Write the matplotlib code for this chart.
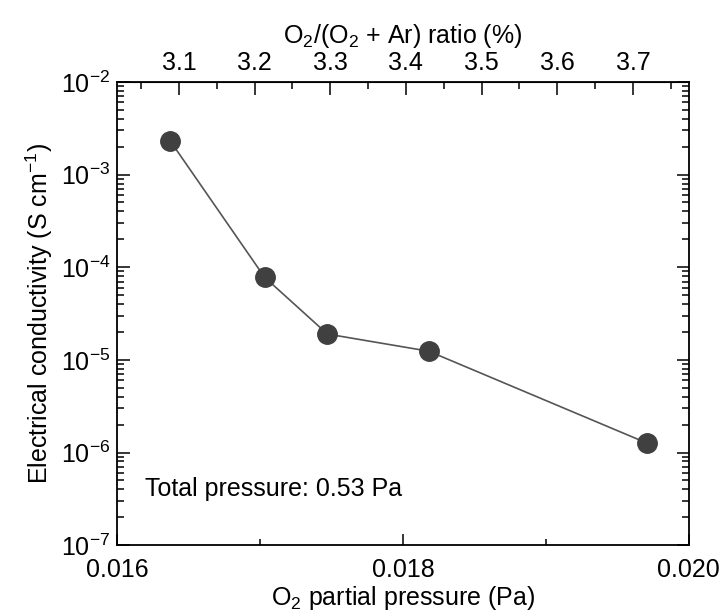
import matplotlib
matplotlib.use('Agg')
import matplotlib.pyplot as plt
from matplotlib.ticker import (MultipleLocator, FixedLocator, FormatStrFormatter,
                               LogLocator, NullFormatter)

plt.rcParams['font.family'] = ['Liberation Sans', 'DejaVu Sans']
plt.rcParams['mathtext.fontset'] = 'custom'
plt.rcParams['mathtext.rm'] = 'Liberation Sans'
plt.rcParams['mathtext.it'] = 'Liberation Sans:italic'
plt.rcParams['mathtext.bf'] = 'Liberation Sans:bold'

# O2 partial pressure (Pa) and conductivity (S/cm)
o2_pressure = [0.01637, 0.01703, 0.01747, 0.01818, 0.01971]
conductivity = [2.3e-3, 7.8e-5, 1.9e-5, 1.24e-5, 1.26e-6]
total_pressure = 0.53
ratio_ticks = [3.1, 3.2, 3.3, 3.4, 3.5, 3.6, 3.7]

FS = 18

fig = plt.figure(figsize=(7.23, 6.16), dpi=100)
ax = fig.add_axes([0.1625, 0.115, 0.79, 0.752])

ax.plot(o2_pressure, conductivity, '-', color='#555555', lw=1.2, zorder=2)
ax.plot(o2_pressure, conductivity, 'o', color='#404040', ms=14, zorder=3)

ax.set_yscale('log')
ax.set_xlim(0.016, 0.020)
ax.set_ylim(1e-7, 1e-2)

ax.xaxis.set_major_locator(MultipleLocator(0.002))
ax.xaxis.set_minor_locator(MultipleLocator(0.001))
ax.xaxis.set_major_formatter(FormatStrFormatter('%.3f'))
ax.yaxis.set_major_locator(LogLocator(base=10, numticks=10))
ax.yaxis.set_minor_locator(LogLocator(base=10, subs=range(2, 10), numticks=20))
ax.yaxis.set_minor_formatter(NullFormatter())

ax.tick_params(axis='both', which='both', direction='in', labelsize=FS, width=1.1)
ax.tick_params(axis='x', which='both', top=False)
ax.tick_params(axis='y', which='both', right=True)
ax.tick_params(axis='x', which='major', length=8, pad=9)
ax.tick_params(axis='x', which='minor', length=4)
ax.tick_params(axis='y', which='major', length=9, pad=5)
ax.tick_params(axis='y', which='minor', length=5)
for s in ax.spines.values():
    s.set_linewidth(1.3)

ax.set_xlabel('O$_2$ partial pressure (Pa)', fontsize=FS, labelpad=2)
ax.set_ylabel('Electrical conductivity (S cm$^{-1}$)', fontsize=FS, labelpad=4)

# top axis: O2 share of the total pressure, in %
top = ax.secondary_xaxis('top', functions=(lambda x: x / total_pressure * 100,
                                           lambda r: r * total_pressure / 100))
top.xaxis.set_major_locator(FixedLocator(ratio_ticks))
top.xaxis.set_minor_locator(MultipleLocator(0.05))
top.xaxis.set_major_formatter(FormatStrFormatter('%.1f'))
top.tick_params(which='both', direction='in', labelsize=FS, width=1.1)
top.tick_params(which='major', length=9, pad=5)
top.tick_params(which='minor', length=5)
top.set_xlabel('O$_2$/(O$_2$ + Ar) ratio (%)', fontsize=FS, labelpad=6)

ax.text(0.048, 0.121, 'Total pressure: %.2f Pa' % total_pressure, transform=ax.transAxes,
        fontsize=FS, va='center', ha='left')

fig.savefig('out.png', dpi=100)
